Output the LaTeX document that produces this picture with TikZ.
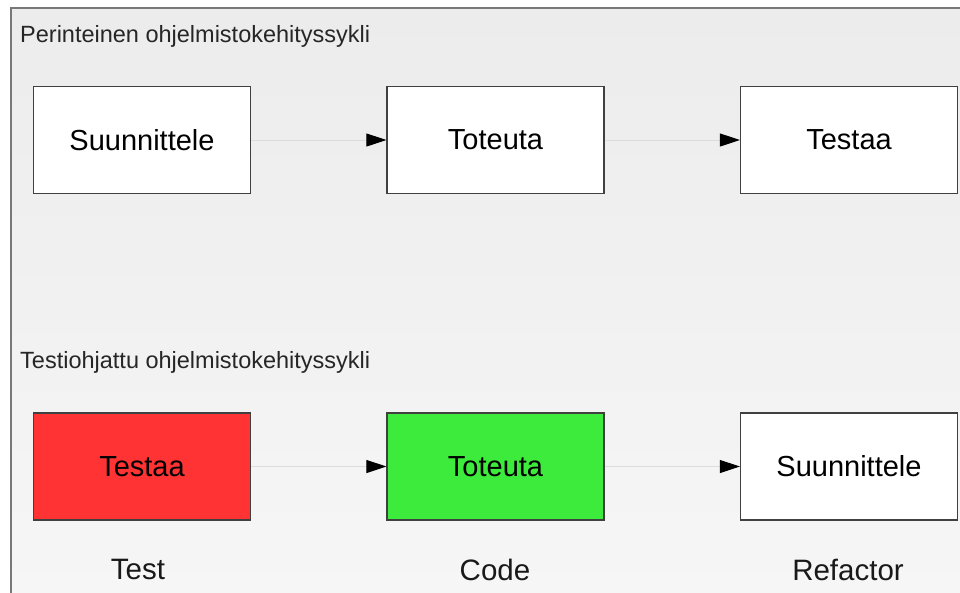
\documentclass[tikz,border=0pt]{standalone}
\usepackage{fontspec}
\setmainfont{Liberation Sans}
\usetikzlibrary{arrows.meta}
\definecolor{bgtop}{RGB}{236,236,236}
\definecolor{bgbot}{RGB}{246,246,246}
\definecolor{framec}{RGB}{120,120,120}
\definecolor{boxred}{RGB}{255,51,51}
\definecolor{boxgreen}{RGB}{61,235,61}
\definecolor{flowline}{RGB}{220,220,220}
\begin{document}
\begin{tikzpicture}[x=1pt,y=-1pt,
  stepbox/.style={draw=black!75, line width=1.3pt, fill=white, minimum width=217pt, minimum height=107pt, inner sep=0pt, font=\fontsize{29}{34}\selectfont},
  heading/.style={font=\fontsize{23.5}{28}\selectfont, anchor=base west, inner sep=0pt, text=black!85},
  caption/.style={font=\fontsize{29.5}{34}\selectfont, anchor=base, inner sep=0pt, text=black!90},
  flow/.style={draw=flowline, line width=0.9pt, -{Triangle[length=20pt,width=13pt,color=black]}}
]
\useasboundingbox (0,0) rectangle (960,592);
\clip (0,0) rectangle (960,592);
\fill[white] (0,0) rectangle (960,592);
\shade[top color=bgtop, bottom color=bgbot] (11,8) rectangle (970,600);
\draw[framec, line width=2pt] (970,8) -- (11,8) -- (11,600);

\node[heading] (h1) at (20,42.5) {Perinteinen ohjelmistokehityssykli};
\node[heading] (h2) at (20,368.5) {Testiohjattu ohjelmistokehityssykli};

\node[stepbox] (a1) at (142,140) {Suunnittele};
\node[stepbox] (a2) at (495.5,140) {Toteuta};
\node[stepbox] (a3) at (849,140) {Testaa};

\node[stepbox, fill=boxred] (b1) at (142,466.5) {Testaa};
\node[stepbox, fill=boxgreen] (b2) at (495.5,466.5) {Toteuta};
\node[stepbox] (b3) at (849,466.5) {Suunnittele};

\draw[flow] (a1) -- (a2);
\draw[flow] (a2) -- (a3);
\draw[flow] (b1) -- (b2);
\draw[flow] (b2) -- (b3);

\node[caption] (c1) at (138,579) {Test};
\node[caption] (c2) at (495,580) {Code};
\node[caption] (c3) at (848,580) {Refactor};
\end{tikzpicture}
\end{document}
